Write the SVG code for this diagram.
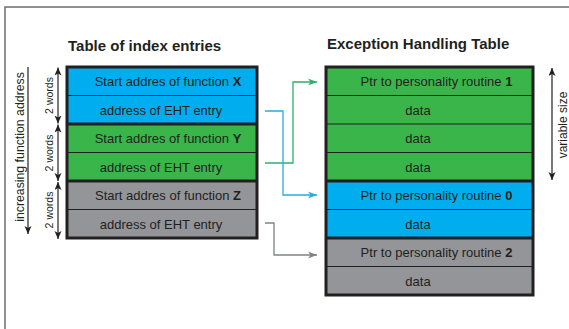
<svg xmlns="http://www.w3.org/2000/svg" width="569" height="329" viewBox="0 0 569 329">
<defs>
<style>
.t{font-family:"Liberation Sans",Arial,sans-serif;font-size:13px;fill:#231F20;text-anchor:middle}
.b{font-weight:bold}
.title{font-family:"Liberation Sans",Arial,sans-serif;font-size:15px;font-weight:bold;fill:#231F20}
.ann{font-family:"Liberation Sans",Arial,sans-serif;fill:#231F20;text-anchor:middle}
.blue{fill:#00AEEF}
.green{fill:#39B54A}
.grey{fill:#939598}
.thin{stroke:#231F20;stroke-width:1}
.thick{stroke:#231F20;stroke-width:3}
.box{fill:none;stroke:#231F20;stroke-width:3}
.dim{stroke:#231F20;stroke-width:1.2;fill:none}
.conn{fill:none;stroke-width:1.3}
</style>
<marker id="ab" markerUnits="userSpaceOnUse" markerWidth="10" markerHeight="8" refX="9" refY="4" orient="auto"><path d="M0,0.5 L9,4 L0,7.5 L2.5,4 z" fill="#29ABE2"/></marker>
<marker id="ag" markerUnits="userSpaceOnUse" markerWidth="10" markerHeight="8" refX="9" refY="4" orient="auto"><path d="M0,0.5 L9,4 L0,7.5 L2.5,4 z" fill="#2BB36A"/></marker>
<marker id="ay" markerUnits="userSpaceOnUse" markerWidth="10" markerHeight="8" refX="9" refY="4" orient="auto"><path d="M0,0.5 L9,4 L0,7.5 L2.5,4 z" fill="#808285"/></marker>
<marker id="ak" markerUnits="userSpaceOnUse" markerWidth="8" markerHeight="8" refX="8" refY="3.5" orient="auto-start-reverse"><path d="M0,0 L8,3.5 L0,7 L2,3.5 z" fill="#231F20"/></marker>
</defs>
<rect width="569" height="329" fill="#fff"/>
<path d="M5,329 V7 H569" fill="none" stroke="#6D6E71" stroke-width="1.5"/>

<text class="title" x="68" y="51">Table of index entries</text>
<text class="title" x="327" y="49">Exception Handling Table</text>

<g id="left-x">
<rect class="blue" x="67" y="67" width="190" height="57"/>
<line class="thin" x1="67" y1="95.5" x2="257" y2="95.5"/>
<text class="t" x="168" y="86">Start addres of function <tspan class="b">X</tspan></text>
<text class="t" x="161" y="114.5">address of EHT entry</text>
</g>
<g id="left-y">
<rect class="green" x="67" y="124" width="190" height="57"/>
<line class="thin" x1="67" y1="152.5" x2="257" y2="152.5"/>
<text class="t" x="168" y="143">Start addres of function <tspan class="b">Y</tspan></text>
<text class="t" x="161" y="171.5">address of EHT entry</text>
</g>
<g id="left-z">
<rect class="grey" x="67" y="181" width="190" height="57"/>
<line class="thin" x1="67" y1="209.5" x2="257" y2="209.5"/>
<text class="t" x="168" y="200">Start addres of function <tspan class="b">Z</tspan></text>
<text class="t" x="161" y="228.5">address of EHT entry</text>
</g>
<g id="left-frame">
<line class="thick" x1="67" y1="124" x2="257" y2="124"/>
<line class="thick" x1="67" y1="181" x2="257" y2="181"/>
<rect class="box" x="67" y="67" width="190" height="171"/>
</g>

<g id="eht-1">
<rect class="green" x="326" y="67" width="207" height="114"/>
<line class="thin" x1="326" y1="95.5" x2="533" y2="95.5"/>
<line class="thin" x1="326" y1="124" x2="533" y2="124"/>
<line class="thin" x1="326" y1="152.5" x2="533" y2="152.5"/>
<text class="t" x="436.5" y="86">Ptr to personality routine <tspan class="b">1</tspan></text>
<text class="t" x="418" y="114.5">data</text>
<text class="t" x="418" y="143">data</text>
<text class="t" x="418" y="171.5">data</text>
</g>
<g id="eht-0">
<rect class="blue" x="326" y="181" width="207" height="57"/>
<line class="thin" x1="326" y1="209.5" x2="533" y2="209.5"/>
<text class="t" x="436.5" y="200">Ptr to personality routine <tspan class="b">0</tspan></text>
<text class="t" x="418" y="228.5">data</text>
</g>
<g id="eht-2">
<rect class="grey" x="326" y="238" width="207" height="57"/>
<line class="thin" x1="326" y1="266.5" x2="533" y2="266.5"/>
<text class="t" x="436.5" y="257">Ptr to personality routine <tspan class="b">2</tspan></text>
<text class="t" x="418" y="285.5">data</text>
</g>
<g id="eht-frame">
<line class="thick" x1="326" y1="181" x2="533" y2="181"/>
<line class="thick" x1="326" y1="238" x2="533" y2="238"/>
<rect class="box" x="326" y="67" width="207" height="228"/>
</g>

<g id="connectors">
<path class="conn" d="M265,163 H293 V82 H317" stroke="#2BB36A" marker-end="url(#ag)"/>
<path class="conn" d="M265,111 H283 V195 H317" stroke="#29ABE2" marker-end="url(#ab)"/>
<path class="conn" d="M265,223 H274 V255 H317" stroke="#808285" marker-end="url(#ay)"/>
</g>

<g id="annotations">
<line class="dim" x1="28" y1="67" x2="28" y2="234" marker-end="url(#ak)"/>
<text class="ann" font-size="12.3" transform="translate(24,147) rotate(-90)">increasing function address</text>
<line class="dim" x1="58" y1="67.5" x2="58" y2="123.5" marker-start="url(#ak)" marker-end="url(#ak)"/>
<line class="dim" x1="58" y1="124.5" x2="58" y2="181" marker-start="url(#ak)" marker-end="url(#ak)"/>
<line class="dim" x1="58" y1="182" x2="58" y2="239" marker-start="url(#ak)" marker-end="url(#ak)"/>
<text class="ann" font-size="10.5" transform="translate(53,95.5) rotate(-90)">2 words</text>
<text class="ann" font-size="10.5" transform="translate(53,153) rotate(-90)">2 words</text>
<text class="ann" font-size="10.5" transform="translate(53,210) rotate(-90)">2 words</text>
<line class="dim" x1="552" y1="68" x2="552" y2="180" marker-start="url(#ak)" marker-end="url(#ak)"/>
<text class="ann" font-size="12" transform="translate(567,125) rotate(-90)">variable size</text>
</g>
</svg>
